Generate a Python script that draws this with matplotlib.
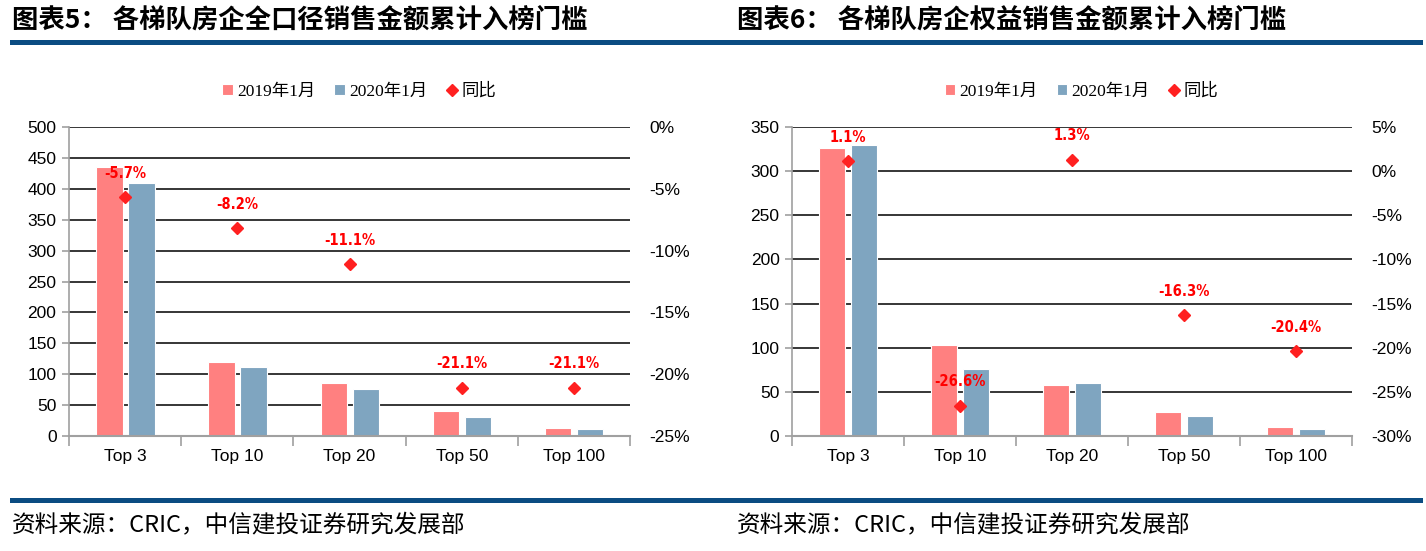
import matplotlib.pyplot as plt
import numpy as np
from matplotlib.lines import Line2D
from matplotlib.ticker import FuncFormatter

# 数据
cats = ['Top 3', 'Top 10', 'Top 20', 'Top 50', 'Top 100']

left_2019 = [435, 120, 85, 40, 13]
left_2020 = [410, 111, 76, 31, 11]
left_yoy = [-5.7, -8.2, -11.1, -21.1, -21.1]

right_2019 = [326, 103, 58, 27, 10]
right_2020 = [330, 76, 60, 23, 8]
right_yoy = [1.1, -26.6, 1.3, -16.3, -20.4]

PINK = '#FF8080'
BLUE = '#7FA5C0'
NAVY = '#0B4C82'
NUM_FONT = ['Liberation Sans', 'DejaVu Sans']
CJK = ['Noto Sans CJK SC', 'DejaVu Sans']
LEG_FONT = ['Liberation Serif', 'Noto Sans CJK SC']

W, H = 1426, 551
fig = plt.figure(figsize=(W / 100, H / 100), dpi=100)


def px_axes(x0, x1, y0, y1):
    return fig.add_axes([x0 / W, 1 - y1 / H, (x1 - x0) / W, (y1 - y0) / H])


def draw(ax, v19, v20, yoy, ymax, ystep, pmin, pmax):
    x = np.arange(len(cats))
    ax.set_axisbelow(True)
    ax.bar(x - 0.14, v19, 0.235, color=PINK, edgecolor='white', linewidth=0.8, label='2019年1月')
    ax.bar(x + 0.145, v20, 0.235, color=BLUE, edgecolor='white', linewidth=0.8, label='2020年1月')
    ax.set_xlim(-0.5, len(cats) - 0.5)
    ax.set_ylim(0, ymax)
    ax.set_yticks(np.arange(0, ymax + 1, ystep))
    ax.yaxis.grid(True, color='black', linewidth=1.1)
    for s in ['top', 'right']:
        ax.spines[s].set_visible(False)
    ax.spines['left'].set_color('#A0A0A0')
    ax.spines['bottom'].set_color('#A0A0A0')
    ax.spines['left'].set_linewidth(1.2)
    ax.spines['bottom'].set_linewidth(1.5)
    ax.set_xticks(np.arange(-0.5, len(cats)), minor=False)
    ax.set_xticklabels([])
    ax.set_xticks(x, minor=True)
    ax.set_xticklabels(cats, minor=True, fontsize=12.5, family=NUM_FONT)
    ax.tick_params(axis='x', which='major', length=7, color='#A0A0A0', width=1.2)
    ax.tick_params(axis='x', which='minor', length=0, pad=9)
    ax.tick_params(axis='y', length=5, color='#A0A0A0', width=1.2, pad=4, labelsize=12.5)
    for t in ax.get_yticklabels():
        t.set_family(NUM_FONT)

    ax2 = ax.twinx()
    ax2.set_ylim(pmin, pmax)
    ax2.set_yticks(np.arange(pmin, pmax + 1, 5))
    ax2.yaxis.set_major_formatter(FuncFormatter(lambda v, p: '%d%%' % round(v)))
    for s in ax2.spines.values():
        s.set_visible(False)
    ax2.tick_params(axis='y', length=0, pad=14, labelsize=12.5)
    for t in ax2.get_yticklabels():
        t.set_family(NUM_FONT)
    ax2.plot(x, yoy, linestyle='none', marker='D', markersize=6, color='#FF2020', label='同比')
    for xi, v in zip(x, yoy):
        ax2.annotate('%.1f%%' % v, (xi, v), xytext=(0, 24), textcoords='offset pixels',
                     ha='center', va='center', color='#FF0000', fontsize=10.5,
                     fontweight='bold', fontstretch='condensed', family=['DejaVu Sans'])

    h1, l1 = ax.get_legend_handles_labels()
    h2, l2 = ax2.get_legend_handles_labels()
    ax.legend(h1 + h2, l1 + l2, loc='center', bbox_to_anchor=(0.517, 1.115), ncol=3,
              frameon=False, handlelength=0.6, handleheight=0.6, handletextpad=0.25,
              columnspacing=1.1, prop={'family': LEG_FONT, 'size': 12.5})
    return ax2


axL = px_axes(69, 630, 127, 436)
draw(axL, left_2019, left_2020, left_yoy, 500, 50, -25, 0)
axR = px_axes(792, 1352, 127, 436)
draw(axR, right_2019, right_2020, right_yoy, 350, 50, -30, 5)

# 标题与来源
fig.text(12 / W, 1 - 20 / H, '图表5： 各梯队房企全口径销售金额累计入榜门槛', fontsize=19,
         fontweight='bold', family=CJK, va='center', ha='left')
fig.text(737 / W, 1 - 20 / H, '图表6： 各梯队房企权益销售金额累计入榜门槛', fontsize=19,
         fontweight='bold', family=CJK, va='center', ha='left')
fig.text(12 / W, 1 - 526 / H, '资料来源：CRIC，中信建投证券研究发展部', fontsize=17,
         style='italic', family=CJK, va='center', ha='left')
fig.text(737 / W, 1 - 526 / H, '资料来源：CRIC，中信建投证券研究发展部', fontsize=17,
         style='italic', family=CJK, va='center', ha='left')

for yy in [42, 500]:
    fig.add_artist(Line2D([12 / W, 1420 / W], [1 - yy / H, 1 - yy / H], color=NAVY,
                          linewidth=3.6, transform=fig.transFigure))

fig.savefig('out.png', dpi=100)
